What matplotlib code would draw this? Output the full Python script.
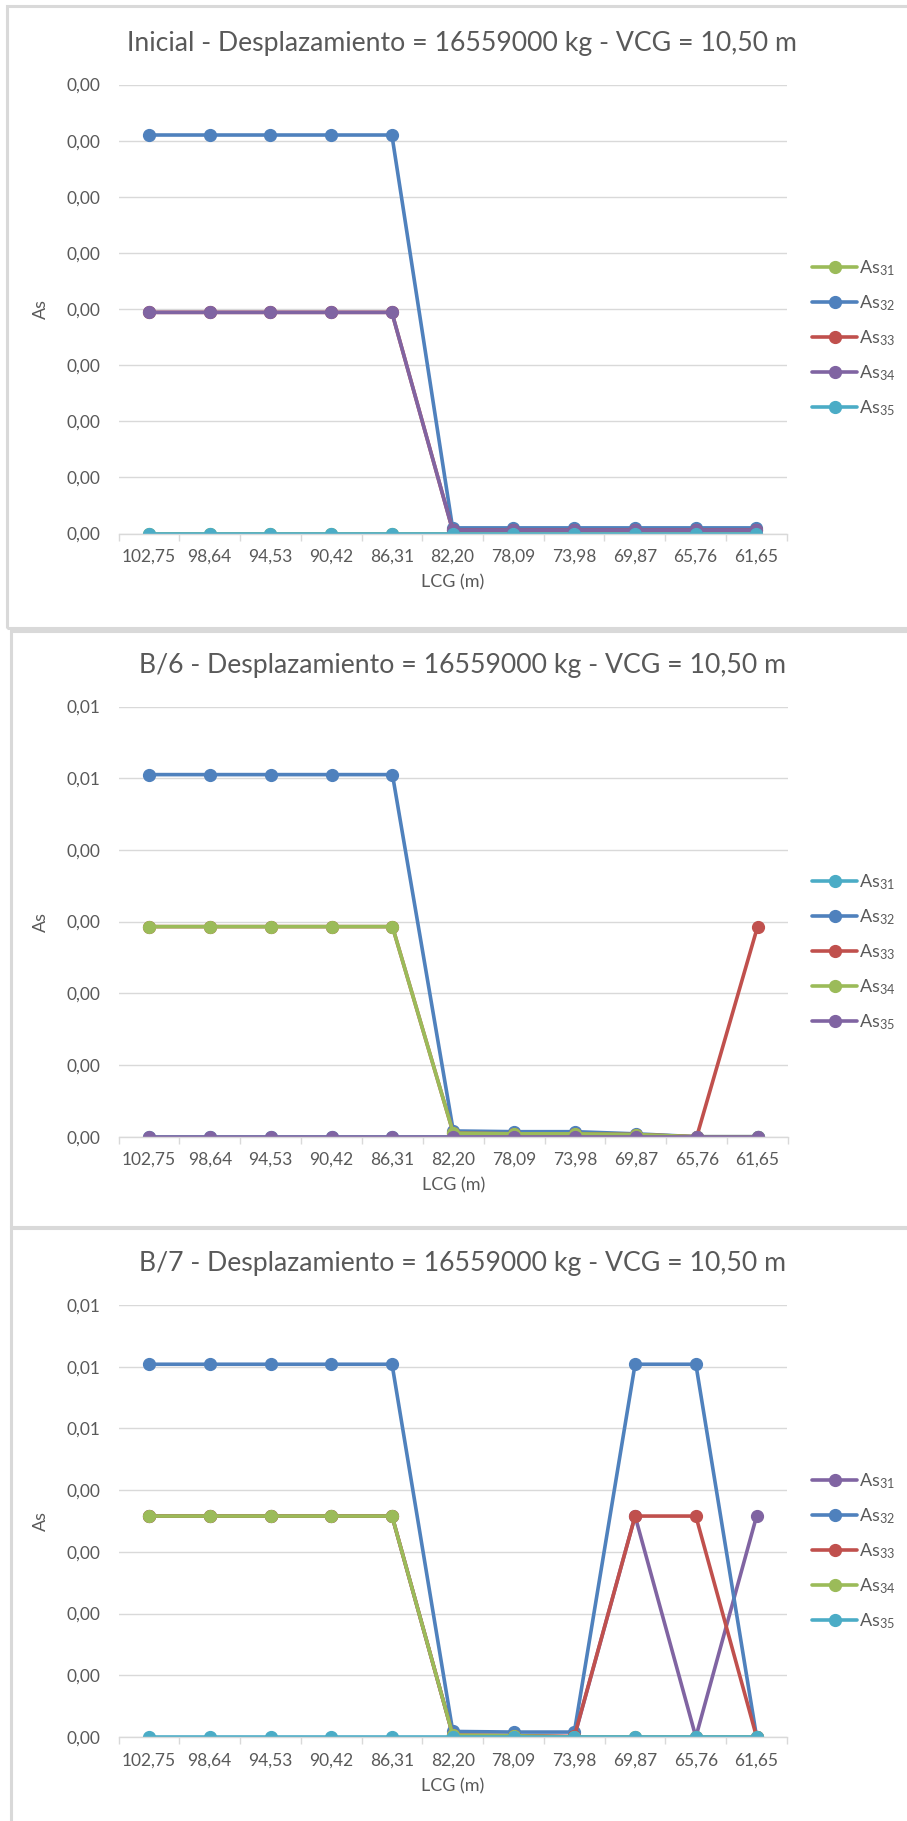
import numpy as np
import matplotlib
matplotlib.use('Agg')
import matplotlib.pyplot as plt
from matplotlib.patches import Rectangle
from matplotlib.ticker import FuncFormatter, MultipleLocator

plt.rcParams['font.family'] = ['Lato', 'DejaVu Sans']
plt.rcParams['mathtext.fontset'] = 'custom'
plt.rcParams['mathtext.rm'] = 'Lato'
plt.rcParams['mathtext.default'] = 'rm'

# categories (LCG in m)
lcg = ['102,75', '98,64', '94,53', '90,42', '86,31', '82,20', '78,09', '73,98', '69,87', '65,76', '61,65']

# Inicial
as31_ini = [0, 0, 0, 0, 0, 0, 0, 0, 0, 0, 0]
as32_ini = [0.00355, 0.00355, 0.00355, 0.00355, 0.00355, 0.00005, 0.00005, 0.00005, 0.00005, 0.00005, 0.00005]
as33_ini = [0.00197, 0.00197, 0.00197, 0.00197, 0.00197, 0.00003, 0.00003, 0.00003, 0.00003, 0.00003, 0.00003]
as34_ini = [0.00197, 0.00197, 0.00197, 0.00197, 0.00197, 0.00003, 0.00003, 0.00003, 0.00003, 0.00003, 0.00003]
as35_ini = [0, 0, 0, 0, 0, 0, 0, 0, 0, 0, 0]

# B/6
as31_b6 = [0, 0, 0, 0, 0, 0, 0, 0, 0, 0, 0]
as32_b6 = [0.00505, 0.00505, 0.00505, 0.00505, 0.00505, 0.00008, 0.00007, 0.00007, 0.00004, 0, 0]
as33_b6 = [0.00293, 0.00293, 0.00293, 0.00293, 0.00293, 0.00005, 0.00004, 0.00004, 0.00003, 0, 0.00293]
as34_b6 = [0.00293, 0.00293, 0.00293, 0.00293, 0.00293, 0.00005, 0.00004, 0.00004, 0.00003, 0, 0]
as35_b6 = [0, 0, 0, 0, 0, 0, 0, 0, 0, 0, 0]

# B/7
as31_b7 = [0.00358, 0.00358, 0.00358, 0.00358, 0.00358, 0.00003, 0.00002, 0, 0.00358, 0, 0.00358]
as32_b7 = [0.00604, 0.00604, 0.00604, 0.00604, 0.00604, 0.00009, 0.00008, 0.00008, 0.00604, 0.00604, 0]
as33_b7 = [0.00358, 0.00358, 0.00358, 0.00358, 0.00358, 0.00003, 0.00002, 0.00001, 0.00358, 0.00358, 0]
as34_b7 = [0.00358, 0.00358, 0.00358, 0.00358, 0.00358, 0.00003, 0.00002, 0, 0, 0, 0]
as35_b7 = [0, 0, 0, 0, 0, 0, 0, 0, 0, 0, 0]

labels = ['As$_{31}$', 'As$_{32}$', 'As$_{33}$', 'As$_{34}$', 'As$_{35}$']

blue = '#4F81BD'
red = '#C0504D'
green = '#9BBB59'
purple = '#8064A2'
aqua = '#4BACC6'
grey_txt = '#595959'
grey_line = '#D9D9D9'

W, H = 907, 1821
fig = plt.figure(figsize=(W / 100, H / 100), dpi=100)

panels = [
    dict(title='Inicial - Desplazamiento = 16559000 kg - VCG = 10,50 m',
         series=[as31_ini, as32_ini, as33_ini, as34_ini, as35_ini],
         colors=[green, blue, red, purple, aqua],
         ymax=0.004, step=0.0005,
         box=(7, 6, 940, 622), plot=(118.6, 84.5, 786.6, 533.5),
         title_y=43, leg_y=273),
    dict(title='B/6 - Desplazamiento = 16559000 kg - VCG = 10,50 m',
         series=[as31_b6, as32_b6, as33_b6, as34_b6, as35_b6],
         colors=[aqua, blue, red, green, purple],
         ymax=0.006, step=0.001,
         box=(11, 631, 940, 596), plot=(118.6, 706.5, 788, 1136.7),
         title_y=665, leg_y=887),
    dict(title='B/7 - Desplazamiento = 16559000 kg - VCG = 10,50 m',
         series=[as31_b7, as32_b7, as33_b7, as34_b7, as35_b7],
         colors=[purple, blue, red, green, aqua],
         ymax=0.007, step=0.001,
         box=(11, 1228, 940, 640), plot=(118.6, 1305, 787, 1737),
         title_y=1264, leg_y=1486),
]

x = np.arange(len(lcg))

for p in panels:
    bx, by, bw, bh = p['box']
    fig.add_artist(Rectangle((bx / W, 1 - (by + bh) / H), bw / W, bh / H,
                             transform=fig.transFigure, fill=False,
                             edgecolor=grey_line, linewidth=2.2))
    l, t, r, b = p['plot']
    ax = fig.add_axes([l / W, 1 - b / H, (r - l) / W, (b - t) / H])
    handles = []
    for vals, col, lab in zip(p['series'], p['colors'], labels):
        h, = ax.plot(x, vals, color=col, linewidth=2.6, marker='o',
                     markersize=8.5, label=lab, solid_capstyle='round')
        handles.append(h)
    ax.set_xlim(-0.5, len(lcg) - 0.5)
    ax.set_ylim(0, p['ymax'])
    ax.yaxis.set_major_locator(MultipleLocator(p['step']))
    ax.yaxis.set_major_formatter(FuncFormatter(lambda v, pos: f'{v + 1e-12:.2f}'.replace('.', ',')))
    ax.set_xticks(x)
    ax.set_xticklabels(lcg)
    ax.set_xticks(np.arange(-0.5, len(lcg)), minor=True)
    ax.tick_params(axis='x', which='major', length=0, pad=11, labelsize=12.5, labelcolor=grey_txt)
    ax.tick_params(axis='x', which='minor', length=5, color=grey_line, width=1)
    ax.tick_params(axis='y', length=0, pad=13, labelsize=12.5, labelcolor=grey_txt)
    ax.grid(axis='y', color=grey_line, linewidth=1)
    ax.set_axisbelow(True)
    for s in ['top', 'right', 'left']:
        ax.spines[s].set_visible(False)
    ax.spines['bottom'].set_color(grey_line)
    ax.spines['bottom'].set_linewidth(1)
    ax.set_xlabel('LCG (m)', fontsize=13, color=grey_txt, labelpad=7)
    ax.set_ylabel('As', fontsize=13, color=grey_txt, labelpad=8)
    ax.yaxis.set_label_coords((49 - l) / (r - l), 0.5)
    fig.text(462 / W, 1 - p['title_y'] / H, p['title'], ha='center', va='center',
             fontsize=19.2, color=grey_txt)
    fig.legend(handles=handles, loc='upper left',
               bbox_to_anchor=(812 / W, 1 - (p['leg_y'] - 15) / H),
               frameon=False, fontsize=13, handlelength=2.5, handletextpad=0.1,
               labelspacing=0.85, labelcolor=grey_txt, borderaxespad=0, borderpad=0)

fig.savefig('out.png', dpi=100)
